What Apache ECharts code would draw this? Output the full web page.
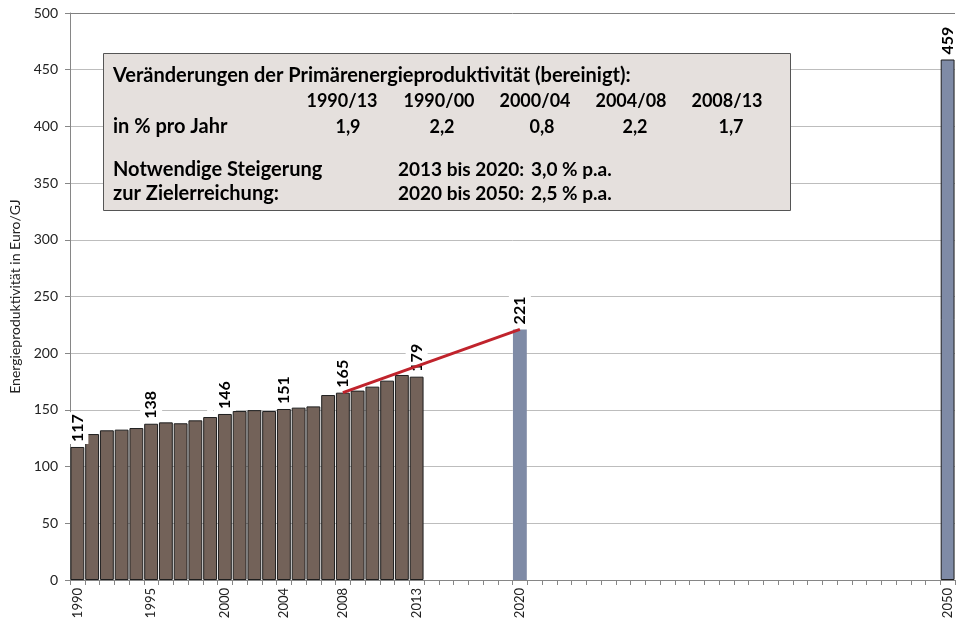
<!DOCTYPE html>
<html>
<head>
<meta charset="utf-8">
<script src="https://cdn.jsdelivr.net/npm/echarts@6/dist/echarts.min.js"></script>
<style>
html,body{margin:0;padding:0;background:#fff;}
#chart{width:962px;height:625px;}
</style>
</head>
<body>
<div id="chart"></div>
<script>
// ---- data ----
const histYears = ['1990','1991','1992','1993','1994','1995','1996','1997','1998','1999','2000','2001','2002','2003','2004','2005','2006','2007','2008','2009','2010','2011','2012','2013'];
const histValues = [117.3,128.7,132.0,132.6,134.0,137.8,139.0,138.2,140.8,143.7,146.4,149.0,149.8,149.0,150.8,152.0,153.1,163.1,165.2,167.0,170.5,175.8,180.8,179.3];
const targetYears = ['2020','2050'];
const targetValues = [221, 459];
const trendYears = ['2008','2020'];
const trendValues = [165.2, 221];
const labeledYears = ['1990','1995','2000','2004','2008','2013','2020','2050'];
const yTicks = [0,50,100,150,200,250,300,350,400,450,500];

// categories: yearly slots 1990..2048, then 2050
const categories = [];
for (let y = 1990; y <= 2048; y++) categories.push(String(y));
categories.push('2050');

function seriesFrom(years, values) {
  const arr = categories.map(() => null);
  years.forEach((y, i) => { arr[categories.indexOf(y)] = values[i]; });
  return arr;
}
const histData = seriesFrom(histYears, histValues);
const targetData = seriesFrom(targetYears, targetValues).map((v, i) =>
  v === null ? null : (categories[i] === '2050'
    ? {value: v, itemStyle: {borderWidth: 1, borderColor: '#1e1e1e'}}
    : v));
const trendData = seriesFrom(trendYears, trendValues);

const FONT = 'Lato';

const barLabel = {
  show: true,
  position: 'top',
  rotate: 90,
  align: 'left',
  verticalAlign: 'middle',
  distance: 3,
  fontFamily: FONT,
  fontWeight: 'bold',
  fontSize: 16,
  color: '#000',
  backgroundColor: '#fff',
  padding: [3, 2, 3, 2],
  formatter: p => labeledYears.indexOf(p.name) >= 0 ? String(Math.round(p.value)) : ''
};

const gridColors = yTicks.map((v, i) => i === yTicks.length - 1 ? '#808080' : '#bdbdbd');

const chart = echarts.init(document.getElementById('chart'), null, {renderer: 'canvas'});

// [text, x, y, align, fontSize]
const boxTexts = [
  ['Veränderungen der Primärenergieproduktivität (bereinigt):', 113, 76, 'left', 20],
  ['1990/13', 342, 101, 'center', 18],
  ['1990/00', 439, 101, 'center', 18],
  ['2000/04', 535, 101, 'center', 18],
  ['2004/08', 631, 101, 'center', 18],
  ['2008/13', 727, 101, 'center', 18],
  ['in % pro Jahr', 113, 127, 'left', 20],
  ['1,9', 348, 127, 'center', 18],
  ['2,2', 442, 127, 'center', 18],
  ['0,8', 542, 127, 'center', 18],
  ['2,2', 635, 127, 'center', 18],
  ['1,7', 731, 127, 'center', 18],
  ['Notwendige Steigerung', 113, 170, 'left', 20],
  ['2013 bis 2020:', 398, 170, 'left', 19],
  ['3,0 % p.a.', 531, 170, 'left', 19],
  ['zur Zielerreichung:', 113, 194, 'left', 20],
  ['2020 bis 2050:', 398, 194, 'left', 19],
  ['2,5 % p.a.', 531, 194, 'left', 19]
];

const graphics = [{
  type: 'rect',
  left: 103, top: 53,
  shape: {width: 687, height: 157},
  style: {fill: '#e5e0dd', stroke: '#555', lineWidth: 1},
  z: 100
}];
boxTexts.forEach(t => {
  graphics.push({
    type: 'text',
    x: t[1], y: t[2],
    style: {
      text: t[0], fill: '#000',
      font: 'bold ' + t[4] + 'px ' + FONT,
      textAlign: t[3], textVerticalAlign: 'middle'
    },
    z: 101
  });
});

chart.setOption({
  animation: false,
  backgroundColor: '#fff',
  grid: {left: 70, right: 7, top: 13, bottom: 45, containLabel: false, outerBoundsMode: 'none'},
  xAxis: {
    type: 'category',
    data: categories,
    boundaryGap: true,
    axisLine: {show: true, lineStyle: {color: '#868686', width: 1}},
    axisTick: {show: true, interval: 0, length: 5, lineStyle: {color: '#868686'}},
    axisLabel: {
      interval: 0,
      rotate: 90,
      fontFamily: FONT,
      fontSize: 13,
      color: '#222',
      margin: 8,
      formatter: v => labeledYears.indexOf(v) >= 0 ? v : ''
    },
    splitLine: {show: false}
  },
  yAxis: {
    type: 'value',
    min: 0, max: 500, interval: 50,
    name: 'Energieproduktivität in Euro/GJ',
    nameLocation: 'middle',
    nameGap: 46,
    nameTextStyle: {fontFamily: FONT, fontSize: 14, color: '#222'},
    axisLine: {show: true, lineStyle: {color: '#868686', width: 1}},
    axisTick: {show: true, length: 5, lineStyle: {color: '#868686'}},
    axisLabel: {fontFamily: FONT, fontSize: 14, color: '#222', margin: 12},
    splitLine: {show: true, lineStyle: {color: gridColors, width: 1}}
  },
  graphic: graphics,
  series: [
    {
      name: 'Ist',
      type: 'bar',
      data: histData,
      barCategoryGap: '6%',
      barGap: '-100%',
      itemStyle: {color: '#736259', borderColor: '#1e1e1e', borderWidth: 1},
      label: barLabel,
      z: 2
    },
    {
      name: 'Ziel',
      type: 'bar',
      data: targetData,
      barCategoryGap: '6%',
      barGap: '-100%',
      itemStyle: {color: '#7f8ba6', borderColor: '#1e1e1e', borderWidth: 0},
      label: barLabel,
      z: 2
    },
    {
      name: 'Trend',
      type: 'line',
      data: trendData,
      connectNulls: true,
      showSymbol: false,
      symbol: 'none',
      lineStyle: {color: '#c0232c', width: 3},
      z: 5
    }
  ]
});
</script>
</body>
</html>
